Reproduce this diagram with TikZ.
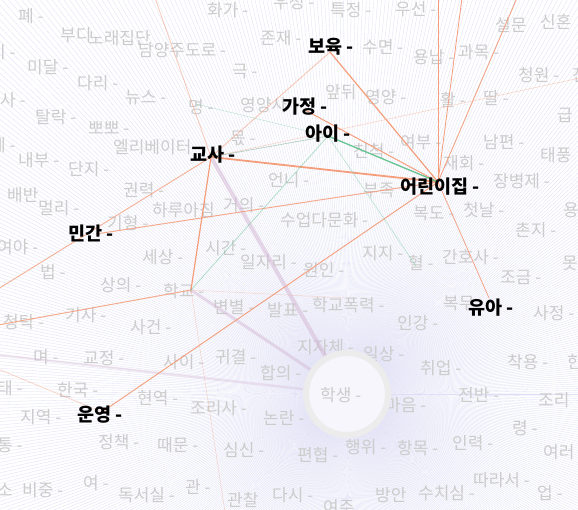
\documentclass[tikz,border=0pt]{standalone}
\usepackage{fontspec}
\setmainfont{Noto Sans CJK KR}
\definecolor{graytxt}{RGB}{204,204,204}
\definecolor{orangeC}{RGB}{244,158,124}
\definecolor{greenC}{RGB}{102,196,146}
\definecolor{mauveC}{RGB}{214,186,214}
\definecolor{lavC}{RGB}{222,222,246}
\definecolor{ringC}{RGB}{236,236,236}
\definecolor{hsfill}{RGB}{247,246,252}
\tikzset{
  gw/.style={text=graytxt, font=\fontsize{17}{17}\selectfont, anchor=west, inner sep=0pt},
  bw/.style={text=black, font=\fontsize{18.5}{18.5}\selectfont\bfseries, anchor=west, inner sep=0pt},
  org/.style={draw=orangeC, line width=1pt},
  grn/.style={draw=greenC, line width=1pt},
  mau/.style={draw=mauveC, line cap=round},
  radial/.style={draw=lavC, line width=0.3pt}
}
\begin{document}
\begin{tikzpicture}[x=1pt,y=-1pt]
\useasboundingbox (0,0) rectangle (578,510);
\clip (0,0) rectangle (578,510);
\fill[white] (0,0) rectangle (578,510);
% connection points
\coordinate (c-hs) at (347,394);
\coordinate (c-bo) at (330,52);
\coordinate (c-ga) at (305,110);
\coordinate (c-a) at (328,136);
\coordinate (c-gyo) at (211,157);
\coordinate (c-eo) at (438,182);
\coordinate (c-min) at (96,234);
\coordinate (c-yu) at (489,298);
\coordinate (c-un) at (102,412);
\coordinate (c-hg) at (191,290);
\coordinate (c-hp) at (345,298);
\coordinate (c-hy) at (416,266);
\coordinate (c-my) at (196,104);
\coordinate (t1) at (438,-2);
\coordinate (t2) at (462,-2);
\coordinate (t3) at (517,-2);
\coordinate (t4) at (155,-2);
\coordinate (L1) at (-2,325);
\coordinate (L2) at (-2,289);
\coordinate (L3) at (-2,369);
\coordinate (L4) at (-2,355);
\coordinate (R1) at (580,78);
\coordinate (B1) at (225,512);
% background radial lines
\foreach \a in {0,0.55,...,359.9} \draw[radial] (c-hs) -- ++(\a:800);
% gray words
\foreach \x/\y/\t in {207/10/화가 -, 273/2/우정 -, 330/10/특정 -, 395/9/우선 -,
  18/16/폐 -, 60/35/부디, 88/38/노래집단, 138/50/남양주도로 -, -10/52/시 -,
  27/67/미달 -, 77/83/다리 -, 125/98/뉴스 -, 188/107/명 -, 0/100/사 -,
  35/117/탈락 -, 88/128/뽀뽀 -, 113/147/엘리베이터 -, -10/145/계 -,
  18/160/내부 -, 68/169/단지 -, 260/38/존재 -, 362/47/수면 -, 413/57/용납 -,
  458/52/과목 -, 495/25/설문, 540/22/신혼, 518/75/청원 -, 572/75/진,
  232/72/극 -, 325/92/앞뒤, 365/97/영양 -, 240/105/영양사, 440/100/활 -,
  483/98/딸 -, 557/115/급, 400/142/여부 -, 483/142/남편 -, 540/155/태풍,
  443/163/재회 -, 353/151/친척 -, 230/138/몫 -, 493/181/장병제 -, 363/190/부족,
  413/213/복도 -, 463/210/첫날 -, 563/210/용, 515/230/촌지 -, 362/253/지지 -,
  408/263/혈 -, 442/257/간호사 -, 500/277/조금 -, 562/263/못, 443/303/복무,
  533/313/사정 -, 397/323/인강 -, 7/195/배반, 123/190/권력 -, 38/208/멀리 -,
  152/210/하루아침, 223/205/거의 -, 268/180/언니 -, 280/220/수업다문화 -,
  107/223/기형 -, -3/247/여야 -, 142/257/세상 -, 205/248/시간 -,
  240/262/일자리 -, 303/270/원인 -, 40/272/법 -, 100/285/상의 -,
  163/291/학교 -, 213/307/변별 -, 267/310/발표 -, 312/305/학교폭력 -,
  3/322/청탁 -, 65/315/기사 -, 130/327/사건 -, 297/347/지자체 -,
  363/354/일상 -, 33/357/며 -, 83/358/교정 -, 163/362/사이 -, 215/357/귀결 -,
  260/373/합의 -, -3/388/태 -, 57/390/한국 -, 137/398/현역 -, 190/408/조리사 -,
  20/417/지역 -, 263/418/논란 -, -3/445/통 -, 98/442/정책 -, 157/445/때문 -,
  223/450/심신 -, 297/455/편협 -, 345/447/행위 -, 397/448/항목 -,
  452/443/인력 -, 543/452/여러, 512/428/령 -, -3/490/소, 22/490/비중 -,
  83/483/여 -, 118/495/독서실 -, 185/487/관 -, 227/500/관찰, 272/495/다시 -,
  323/507/여주, 375/495/방안, 418/493/수치심 -, 473/480/따라서 -, 537/493/업 -,
  538/400/조리, 458/395/전반 -, 385/405/마음 -, 420/368/취업 -, 507/362/착용 -,
  567/362/한}
  \node[gw] at (\x,\y) {\t};
% mauve heavy links to 학생
\draw[mau, line width=4pt, opacity=.55] (c-gyo) -- (c-hs);
\draw[mau, line width=3pt, opacity=.5] (c-hg) -- (c-hs);
\draw[mau, line width=2.5pt, opacity=.35] (L4) -- (c-hs);
% orange links
\draw[org, line width=1.2pt] (c-bo) -- (c-eo);
\draw[org] (c-ga) -- (c-eo);
\draw[org, line width=1.8pt] (c-gyo) -- (c-eo);
\draw[org, opacity=.85] (c-min) -- (c-eo);
\draw[org] (c-eo) -- (t1);
\draw[org, line width=.8pt] (c-eo) -- (t2);
\draw[org, line width=.8pt] (c-eo) -- (t3);
\draw[org, line width=.7pt] (c-eo) -- (c-yu);
\draw[org, line width=.9pt] (c-eo) -- (c-un);
\draw[org, line width=1.2pt] (c-gyo) -- (c-hg);
\draw[org, opacity=.85] (c-hg) -- (L1);
\draw[org, line width=.9pt, opacity=.8] (c-gyo) -- (L2);
\draw[org, line width=.7pt, opacity=.6] (c-gyo) -- (t4);
\draw[org, line width=.8pt, opacity=.6] (c-bo) -- (c-gyo);
\draw[org, line width=.6pt, opacity=.4] (c-gyo) -- (R1);
\draw[org, line width=.6pt, opacity=.5] (L3) -- (c-un);
\draw[org, line width=.5pt, opacity=.4] (c-hg) -- (B1);
\draw[org, line width=.5pt, opacity=.35] (c-hg) -- (c-hp);
% green links
\draw[grn, line width=1.3pt] (c-a) -- (c-eo);
\draw[grn, line width=.6pt, opacity=.6] (c-a) -- (c-hg);
\draw[grn, line width=.5pt, opacity=.5] (c-a) -- (c-hy);
\draw[grn, line width=.5pt, opacity=.4] (c-my) -- (c-a);
\draw[draw=greenC!50!gray, line width=.8pt, opacity=.45] (c-gyo) -- (c-a);
\fill[greenC] (c-a) circle (1.6pt);
% 학생 hub
\node[circle, minimum size=82pt, draw=ringC, line width=6pt, fill=hsfill] (hs) at (c-hs) {};
\node[gw] (n-hs) at (320,395) {학생 -};
% bold labels
\node[bw] (n-bo) at (308,47) {보육 -};
\node[bw] (n-ga) at (282,107) {가정 -};
\node[bw] (n-a) at (305,134) {아이 -};
\node[bw] (n-gyo) at (190,155) {교사 -};
\node[bw] (n-eo) at (400,187) {어린이집 -};
\node[bw] (n-min) at (68,233) {민간 -};
\node[bw] (n-yu) at (468,308) {유아 -};
\node[bw] (n-un) at (77,415) {운영 -};
\end{tikzpicture}
\end{document}
